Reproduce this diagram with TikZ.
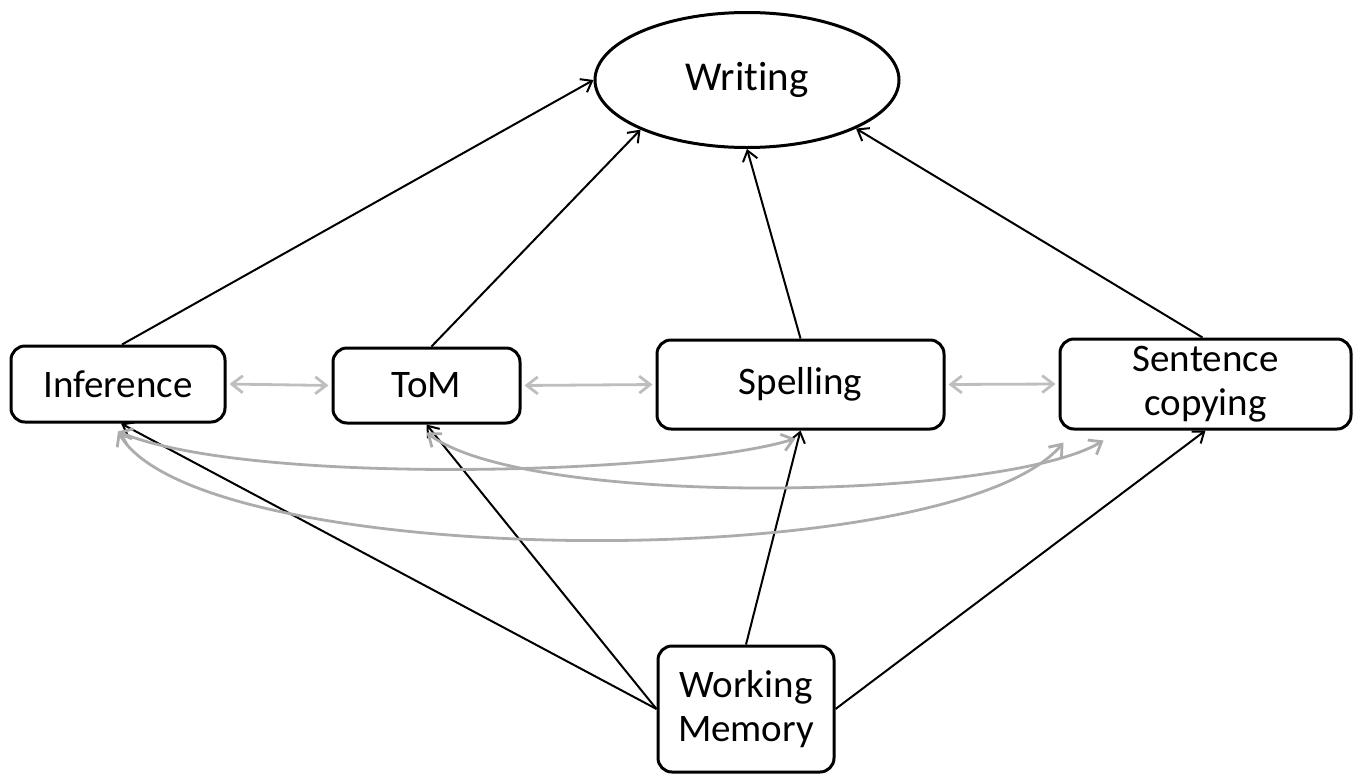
\documentclass[tikz,border=0pt]{standalone}
\usepackage{fontspec}
\setmainfont{Carlito}[RawFeature={-liga;-clig;-calt;-dlig;-rlig}]
\usetikzlibrary{arrows.meta,shapes.geometric}

\definecolor{pairgray}{RGB}{190,190,190}
\definecolor{curvegray}{RGB}{172,172,172}

\begin{document}
\begin{tikzpicture}[x=1pt,y=-1pt,
  box/.style={draw=black, line width=3pt, rounded corners=14pt, inner sep=0pt,
    align=center, font=\fontsize{39}{44}\selectfont},
  link/.style={draw=black, line width=2pt,
    -{Straight Barb[length=10pt,width=15pt]}},
  pair/.style={draw=pairgray, line width=2.8pt, shorten <=3pt, shorten >=3pt,
    {Straight Barb[length=11pt,width=17pt]}-{Straight Barb[length=11pt,width=17pt]}},
  arc/.style={draw=curvegray, line width=2.8pt,
    {Straight Barb[length=11pt,width=17pt]}-{Straight Barb[length=11pt,width=17pt]}},
]
\useasboundingbox (0,0) rectangle (1360,777);

% outcome (the zero kern keeps t and i as separate glyphs)
\node[ellipse, draw=black, line width=3pt, minimum width=304pt, minimum height=135pt,
  inner sep=0pt, font=\fontsize{41}{48}\selectfont] (wr) at (747,80) {Writ\kern0pt ing};

% predictors
\node[box, minimum width=214pt, minimum height=76pt] (inf) at (118,384) {Inference};
\node[box, minimum width=187pt, minimum height=75pt] (tom) at (426.5,385.5) {ToM};
\node[box, minimum width=287pt, minimum height=89pt] (spl) at (800.5,384.5) {Spelling};
\node[box, minimum width=291pt, minimum height=90pt] (sc) at (1205.5,384) {Sentence\\copying};
\node[box, minimum width=176pt, minimum height=126pt] (wm) at (746,709) {Working\\Memory};

% paths into Writing
\draw[link] ([xshift=4pt]inf.north) -- (wr.west);
\draw[link] ([xshift=5pt]tom.north) -- (wr.205);
\draw[link] (spl.north) -- (wr.south);
\draw[link] ([xshift=-3pt]sc.north) -- (wr.336);

% paths from Working Memory
\draw[link] (wm.west) -- ([xshift=3pt]inf.south);
\draw[link] (wm.west) -- (tom.south);
\draw[link] (wm.north) -- (spl.south);
\draw[link] (wm.east) -- (sc.south);

% correlations between neighbours
\draw[pair] (inf.east) -- (tom.west);
\draw[pair] (tom.east) -- (spl.west);
\draw[pair] (spl.east) -- (sc.west);

% correlations between distant predictors
\draw[arc] ([yshift=-8pt]inf.south) .. controls +(132,55) and +(-115,36) .. ([xshift=-5pt,yshift=-8pt]spl.south);
\draw[arc] ([yshift=-8pt]tom.south) .. controls +(100,76) and +(-100,60) .. ([xshift=-102pt,yshift=-10pt]sc.south);
\draw[arc] ([yshift=-8pt]inf.south) .. controls +(80,140) and +(-113,134) .. ([xshift=-142pt,yshift=-12pt]sc.south);
\end{tikzpicture}
\end{document}
